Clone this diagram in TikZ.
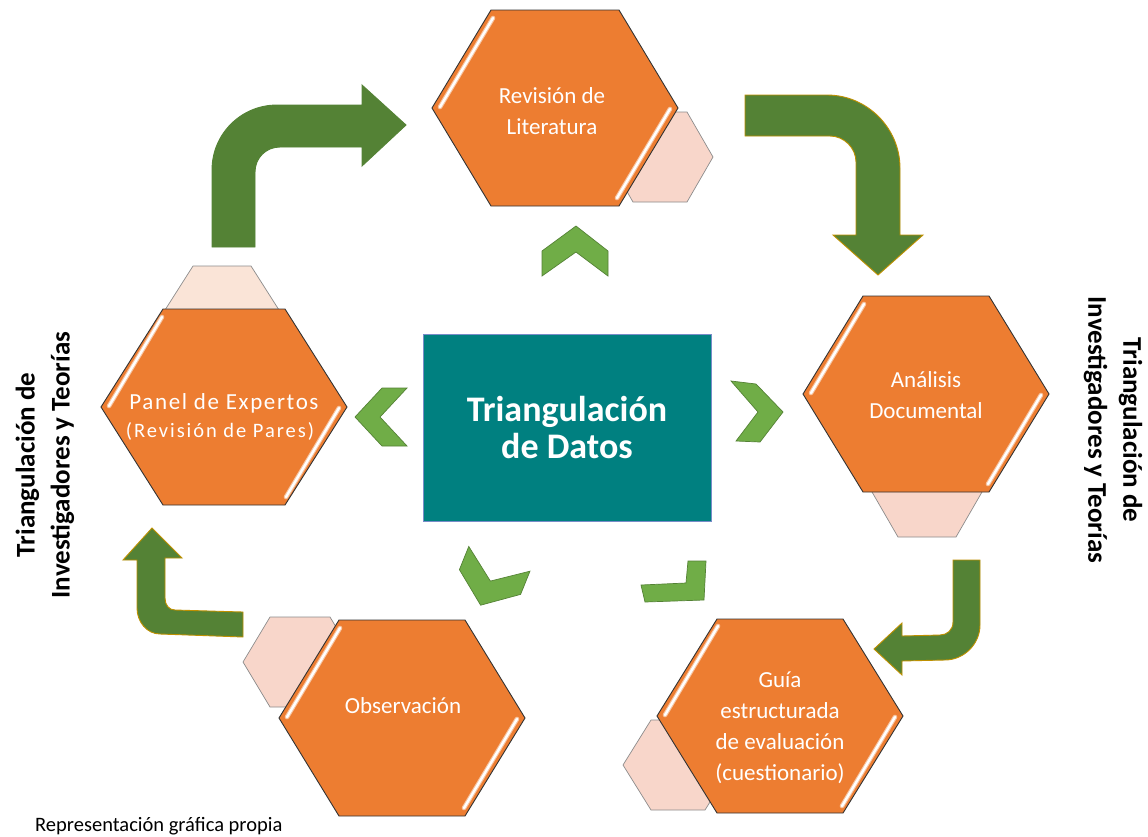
\documentclass[tikz,border=0pt]{standalone}
\usepackage{fontspec}
\setmainfont{Carlito}
\usetikzlibrary{calc}
\definecolor{hexorange}{RGB}{237,125,49}
\definecolor{pinkA}{RGB}{248,214,202}
\definecolor{pinkB}{RGB}{250,228,215}
\definecolor{chevgreen}{RGB}{112,173,71}
\definecolor{chevedge}{RGB}{84,130,53}
\definecolor{arrowgreen}{RGB}{84,130,53}
\definecolor{arrowedge}{RGB}{191,144,0}
\definecolor{tealbox}{RGB}{0,128,128}
\definecolor{rectedge}{RGB}{120,140,200}
\tikzset{
  hexfill/.style={fill=hexorange, draw=black!80, line width=0.9pt, line join=miter},
  pinkfill/.style={fill=pinkA, draw=black!45, line width=0.7pt},
  hlline/.style={draw=white, line width=2.4pt, line cap=round},
  hlglow/.style={draw=hexorange!45!white, line width=4.6pt, line cap=round},
  chevshape/.style={fill=chevgreen, draw=chevedge, line width=0.7pt},
  bentarrow/.style={fill=arrowgreen, draw=arrowedge, line width=0.9pt},
  hextext/.style={text=white, align=center, font=\fontsize{23}{31}\selectfont},
  sidetext/.style={align=center, font=\bfseries\fontsize{27}{35}\selectfont},
}
\newcommand\hexat[6]{\path[#6, shift={(#1,#2)}] (-#3,0) -- (-#4,-#5) -- (#4,-#5) -- (#3,0) -- (#4,#5) -- (-#4,#5) -- cycle;}
\newcommand\hexhl[2]{%
  \draw[hlglow, shift={(#1,#2)}] (-115,-1) -- (-62,-90) (115,1) -- (62,90);
  \draw[hlline, shift={(#1,#2)}] (-115,-1) -- (-62,-90) (115,1) -- (62,90);}
\begin{document}
\begin{tikzpicture}[x=1pt,y=-1pt]
\useasboundingbox (0,0) rectangle (1148,836);
\fill[white] (0,0) rectangle (1148,836);

% pink back hexagons
\hexat{660}{157}{53}{27}{45}{pinkfill}
\hexat{927}{492}{55}{29}{45}{pinkfill}
\hexat{678}{765}{55}{27}{45}{pinkfill}
\hexat{300}{662}{57}{30}{45}{pinkfill}
\hexat{222}{310}{57}{29}{44}{pinkfill, fill=pinkB}

% main hexagons
\hexat{555}{108}{123}{64}{98}{hexfill}
\hexat{926}{394}{123}{63}{98}{hexfill}
\hexat{780}{716}{123}{63}{97}{hexfill}
\hexat{402}{718}{123}{63}{98}{hexfill}
\hexat{224}{407}{123}{61}{98}{hexfill}
\hexhl{555}{108}
\hexhl{926}{394}
\hexhl{780}{716}
\hexhl{402}{718}
\hexhl{224}{407}

% texts in hexagons
\node[hextext] (lit) at (552,111) {Revisión de\\Literatura};
\node[hextext] (doc) at (926,395) {Análisis\\Documental};
\node[hextext] (guia) at (780,728) {Guía\\estructurada\\de evaluación\\(cuestionario)};
\node[hextext] (obs) at (403,706) {Observación};
\node[hextext, font=\fontsize{23}{31}\selectfont\addfontfeatures{LetterSpace=7}] (pan) at (224,403) {Panel de Expertos};
\node[hextext, font=\fontsize{20.5}{25}\selectfont\addfontfeatures{LetterSpace=9.5}] (pan2) at (220,431) {(Revisión de Pares)};

% central box
\node[draw=rectedge, line width=0.8pt, fill=tealbox, minimum width=288, minimum height=187,
      text=white, align=center, font=\bfseries\fontsize{36}{37}\selectfont] (center) at (567,427.5)
      {Triangulación\\de Datos};

% chevrons
\path[chevshape] (542,251) -- (576,226) -- (608,251) -- (608,276) -- (576,252) -- (542,276) -- cycle;
\path[chevshape] (355,417) -- (382,388) -- (407,388) -- (380,417) -- (407,446) -- (382,446) -- cycle;
\path[chevshape] (731,381) -- (756,384) -- (783,412) -- (760,442) -- (736,441) -- (758,412) -- cycle;
\path[chevshape, shift={(490,582)}, rotate=-22] (-33,0) -- (0,25) -- (33,0) -- (33,-25) -- (0,-1) -- (-33,-25) -- cycle;
\path[chevshape] (688,561) -- (706,561) -- (704,600) -- (645,602) -- (641,585) -- (686,583) -- cycle;

% bent arrows
\path[bentarrow, draw=arrowgreen] (212,247) -- (212,170) .. controls (212,134) and (241,105) .. (277,105)
  -- (362,105) -- (362,85) -- (406,125) -- (362,166) -- (362,147) -- (280,147)
  .. controls (266,147) and (255,158) .. (255,172) -- (255,247) -- cycle;
\path[bentarrow] (745,95) -- (827,95) .. controls (867,95) and (900,128) .. (900,168) -- (900,235)
  -- (923,235) -- (878,275) -- (833,235) -- (856,235) -- (856,162)
  .. controls (856,148) and (844,136) .. (830,136) -- (745,136) -- cycle;
\path[bentarrow] (953,560) -- (980,560) -- (980,625) .. controls (980,644) and (964,660) .. (945,660)
  -- (902,661) -- (902,675) -- (874,649) -- (902,623) -- (902,636) -- (940,635)
  .. controls (947,635) and (953,630) .. (953,622) -- cycle;
\path[bentarrow] (243,612) -- (243,637) -- (160,634) .. controls (147,634) and (137,622) .. (137,608)
  -- (137,560) -- (123,560) -- (152,528) -- (182,558) -- (165,558) -- (165,598)
  .. controls (165,605) and (169,610) .. (175,610) -- cycle;

% side texts
\node[sidetext, rotate=90] (lefttxt) at (45,465) {Triangulación de\\Investigadores y Teorías};
\node[sidetext, rotate=-90] (righttxt) at (1113,430) {Triangulación de\\Investigadores y Teorías};

% footer
\node[anchor=base west, inner sep=0pt, font=\fontsize{20.5}{24}\selectfont] (foot) at (35,831) {Representación gráfica propia};
\end{tikzpicture}
\end{document}
